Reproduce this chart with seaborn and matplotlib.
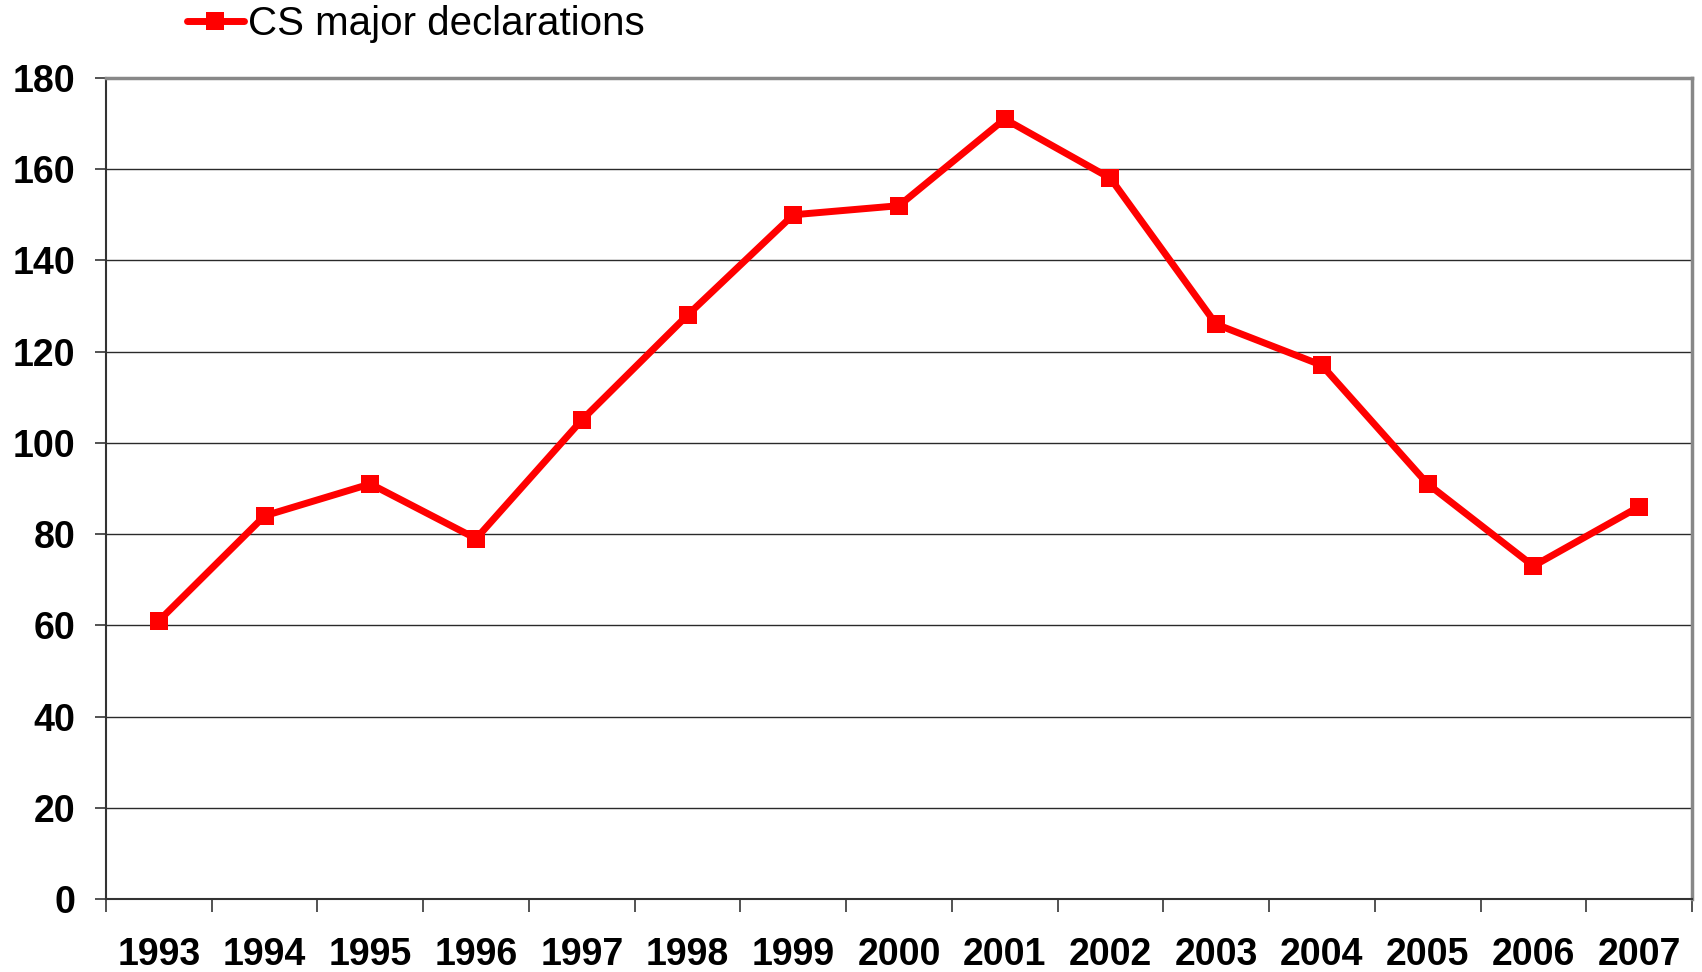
import matplotlib
matplotlib.use('Agg')
import matplotlib.pyplot as plt
import seaborn as sns
import pandas as pd

# Данные графика
years = ['1993', '1994', '1995', '1996', '1997', '1998', '1999', '2000',
         '2001', '2002', '2003', '2004', '2005', '2006', '2007']
declarations = [61, 84, 91, 79, 105, 128, 150, 152, 171, 158, 126, 117, 91, 73, 86]
series_name = 'CS major declarations'
y_ticks = [0, 20, 40, 60, 80, 100, 120, 140, 160, 180]

df = pd.DataFrame({'Year': years, 'Count': declarations})

sns.set_style('white')
plt.rcParams['font.family'] = ['Liberation Sans', 'DejaVu Sans']
plt.rcParams['text.color'] = 'black'
plt.rcParams['xtick.color'] = 'black'
plt.rcParams['ytick.color'] = 'black'

fig = plt.figure(figsize=(17.02, 9.72), dpi=100)
ax = fig.add_axes([0.0623, 0.0751, 0.9318, 0.8447])

sns.lineplot(data=df, x='Year', y='Count', ax=ax, color='#ff0000',
             linewidth=5, marker='s', markersize=13, markeredgewidth=0,
             label=series_name)

ax.set_xlim(-0.5, len(years) - 0.5)
ax.set_ylim(0, 180)
ax.set_yticks(y_ticks)
ax.yaxis.grid(True, color='#2a2a2a', linewidth=1.0)
ax.set_axisbelow(True)

# Засечки между категориями
ax.set_xticks([i - 0.5 for i in range(len(years) + 1)], minor=True)
ax.tick_params(axis='x', which='major', length=0, pad=27, labelsize=27, labelcolor='black')
ax.tick_params(axis='x', which='minor', length=9, width=1.3, color='#444444', bottom=True)
ax.tick_params(axis='y', length=8, width=1.3, color='#444444', pad=14, labelsize=27,
               labelcolor='black', left=True)
for lbl in ax.get_xticklabels() + ax.get_yticklabels():
    lbl.set_fontweight('bold')

ax.set_xlabel('')
ax.set_ylabel('')

for side in ['left', 'bottom']:
    ax.spines[side].set_color('#333333')
    ax.spines[side].set_linewidth(1.5)
for side in ['top', 'right']:
    ax.spines[side].set_color('#888888')
    ax.spines[side].set_linewidth(2.5)

leg = ax.legend(loc='center left', bbox_to_anchor=(0.11, 0.975), bbox_transform=fig.transFigure,
                frameon=False, fontsize=29, handlelength=1.4, handletextpad=0.1,
                borderaxespad=0, borderpad=0)
for t in leg.get_texts():
    t.set_color('black')

plt.savefig('out.png', dpi=100)
